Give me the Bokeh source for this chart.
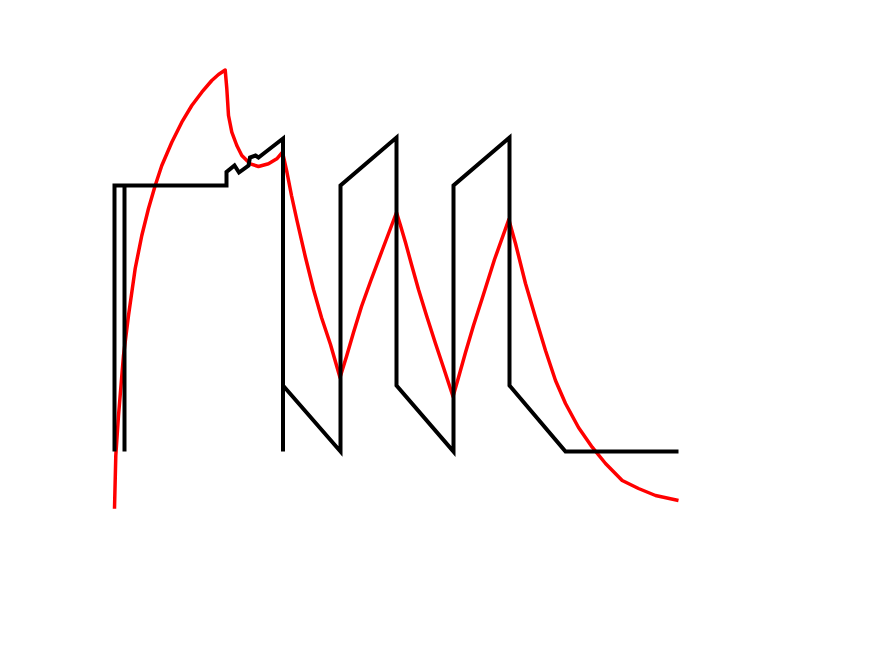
from bokeh.plotting import figure
from bokeh.models import Range1d
from bokeh.embed import file_html
from bokeh.resources import INLINE

# Stimulus trace (black): time / level
stim_t = [1, 1, 11, 11, 11, 113, 113, 121, 125.5, 135, 136.5, 142, 145, 151.5, 169.5,
          169.5, 169.5, 227, 227, 283, 283, 340, 340, 396, 396, 452, 565]
stim_v = [0, 266, 266, 0, 266, 266, 279.5, 286, 279, 286, 294, 296, 294, 299, 313,
          0, 66, 0, 266, 314, 66, 0, 266, 314, 66, 0, 0]

# Response trace (red): time / level
resp_t = [1, 2.3, 5, 10, 15, 21.7, 28.3, 35, 41.7, 48.3, 58.3, 68.3, 78.3, 88.3, 98.3,
          105, 111.7, 113.3, 115, 118.3, 123.3, 128.3, 136.7, 145, 155, 163.3, 169,
          173.5, 178, 183.7, 192, 200, 208, 217, 226.5, 233, 240, 248, 257, 269, 283,
          287, 292, 298, 305, 313, 322, 330, 339.5, 345, 352, 360, 369, 381, 395.3,
          402, 412, 422, 432, 442, 452, 465, 478.7, 492, 508.7, 525, 542, 565]
resp_v = [-57.3, -4, 36, 96, 136, 183, 216, 243, 266, 286, 309.3, 329.3, 346, 359.3, 371,
          377, 381.5, 363, 336, 319.3, 306, 296, 287.7, 285, 287.7, 292.7, 299.3,
          279, 256, 230, 194, 162, 134, 107, 74, 95, 119, 145, 170, 202, 239,
          226, 209, 187, 162, 136, 108, 84, 55, 74, 99, 126, 154, 192, 232,
          208, 168, 134, 101, 71, 48, 24, 4.3, -12, -29, -37, -44, -49]

p = figure(width=859, height=640, output_backend="svg", toolbar_location=None,
           x_range=Range1d(-113, 746), y_range=Range1d(-189, 451),
           min_border=0, outline_line_color=None)
p.xaxis.visible = False
p.yaxis.visible = False
p.grid.visible = False

p.line(resp_t, resp_v, line_color="#ff0000", line_width=3.5, line_join="round")
p.line(stim_t, stim_v, line_color="black", line_width=4, line_join="miter")

open("out.html", "w").write(file_html(p, INLINE))
